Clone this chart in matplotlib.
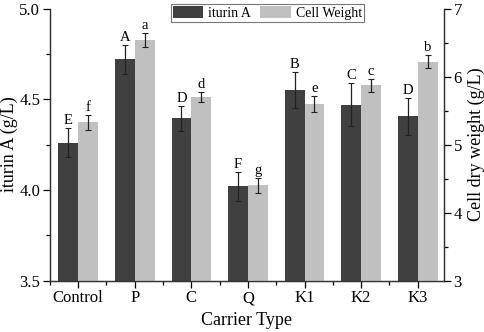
import numpy as np
import matplotlib
matplotlib.use('Agg')
import matplotlib.pyplot as plt
from matplotlib.ticker import MultipleLocator

plt.rcParams['font.family'] = ['Liberation Serif', 'DejaVu Serif']

carriers = ['Control', 'P', 'C', 'Q', 'K1', 'K2', 'K3']
iturin = [4.26, 4.72, 4.395, 4.02, 4.55, 4.47, 4.405]
iturin_err = [0.08, 0.08, 0.07, 0.08, 0.10, 0.117, 0.10]
iturin_grp = ['E', 'A', 'D', 'F', 'B', 'C', 'D']
cell = [5.33, 6.54, 5.70, 4.40, 5.60, 5.87, 6.22]
cell_err = [0.11, 0.10, 0.075, 0.11, 0.12, 0.10, 0.10]
cell_grp = ['f', 'a', 'd', 'g', 'e', 'c', 'b']

dark = '#404040'
light = '#c0c0c0'
w = 0.35

fig = plt.figure(figsize=(4.84, 3.32), dpi=100)
ax = fig.add_axes([0.103, 0.155, 0.814, 0.819])
ax2 = ax.twinx()

x = np.arange(len(carriers))
ekw = dict(ecolor='#222222', elinewidth=0.9, capsize=2.3, capthick=0.8)
b1 = ax.bar(x - w/2, iturin, w, color=dark, yerr=iturin_err,
            error_kw=ekw, label='iturin A', zorder=2)
b2 = ax2.bar(x + w/2, cell, w, color=light, yerr=cell_err,
             error_kw=ekw, label='Cell Weight', zorder=2)

for xi, v, e, g in zip(x, iturin, iturin_err, iturin_grp):
    ax.text(xi - w/2, v + e + 0.006, g, ha='center', va='bottom', fontsize=10.5)
for xi, v, e, g in zip(x, cell, cell_err, cell_grp):
    ax2.text(xi + w/2, v + e + 0.015, g, ha='center', va='bottom', fontsize=10.5)

ax.set_xlim(-0.5, 6.46)
ax.set_ylim(3.5, 5.0)
ax2.set_ylim(3, 7)
ax.set_xticks(x)
ax.set_xticklabels(carriers)
ax.xaxis.set_minor_locator(MultipleLocator(1, offset=0.5))
ax.yaxis.set_major_locator(MultipleLocator(0.5))
ax.yaxis.set_minor_locator(MultipleLocator(0.25))
ax2.yaxis.set_major_locator(MultipleLocator(1))
ax2.yaxis.set_minor_locator(MultipleLocator(0.5))

for a in (ax, ax2):
    a.spines['top'].set_visible(False)
    for s in a.spines.values():
        s.set_linewidth(0.9)
        s.set_color('#333333')
    a.tick_params(which='major', direction='out', length=5, width=0.9, labelsize=12, pad=2)
    a.tick_params(which='minor', direction='out', length=3, width=0.9)

ax.set_ylabel('iturin A (g/L)', fontsize=13, labelpad=1)
ax2.set_ylabel('Cell dry weight (g/L)', fontsize=13, labelpad=4)
ax.set_xlabel('Carrier Type', fontsize=13, labelpad=4)

leg = ax2.legend([b1, b2], ['iturin A', 'Cell Weight'], loc='upper right',
                 bbox_to_anchor=(0.797, 1.017), ncol=2, fontsize=10, frameon=True,
                 fancybox=False, edgecolor='#555555', handlelength=2.2,
                 handleheight=0.95, columnspacing=0.65, handletextpad=0.35,
                 borderpad=0.15, borderaxespad=0)
leg.get_frame().set_linewidth(0.8)

fig.savefig('out.png', dpi=100)
